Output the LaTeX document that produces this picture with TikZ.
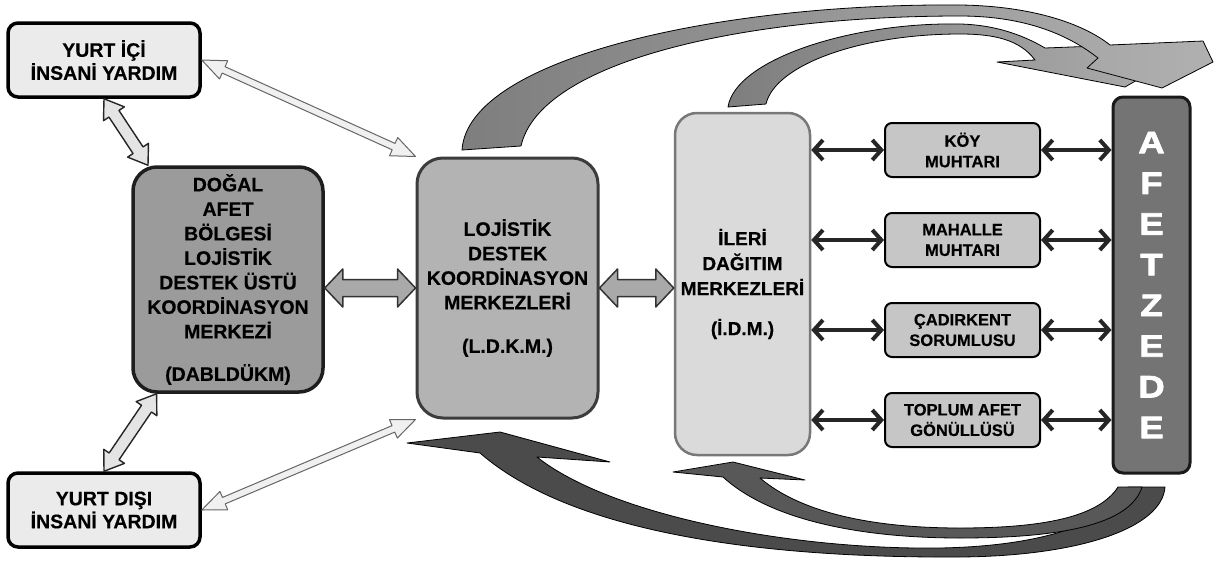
\documentclass[tikz,border=0pt]{standalone}
\usepackage{fontspec}
\setmainfont{Liberation Sans}[BoldFeatures={FakeBold=0.4}]
\newfontfamily\heavyfont{Liberation Sans Bold}[FakeBold=2.5, FakeStretch=1.18]
\usetikzlibrary{calc,arrows.meta}
\definecolor{yfill}{HTML}{EBEBEB}
\definecolor{dabfill}{HTML}{9B9B9B}
\definecolor{dabline}{HTML}{1E1E1E}
\definecolor{ldkmfill}{HTML}{B3B3B3}
\definecolor{ldkmline}{HTML}{3C3C3C}
\definecolor{idmfill}{HTML}{DADADA}
\definecolor{idmline}{HTML}{787878}
\definecolor{smallfill}{HTML}{C6C6C6}
\definecolor{afzfill}{HTML}{747474}
\definecolor{afzline}{HTML}{1A1A1A}
\definecolor{hblkfill}{HTML}{A9A9A9}
\definecolor{diagfill}{HTML}{E4E4E4}
\definecolor{thinfill}{HTML}{F0F0F0}
\definecolor{topdark}{HTML}{7E7E7E}
\definecolor{toplight}{HTML}{B0B0B0}
\definecolor{botfill}{HTML}{4B4B4B}
\definecolor{botfillb}{HTML}{585858}
\newcommand\dblarr[6]{%
  \coordinate (da1) at ($(#2)!#6!(#3)$);
  \coordinate (da2) at ($(#3)!#6!(#2)$);
  \filldraw[#1] (#2) -- ($(da1)!#5!90:(#2)$) -- ($(da1)!#4!90:(#2)$) -- ($(da2)!#4!-90:(#3)$) -- ($(da2)!#5!-90:(#3)$) -- (#3) -- ($(da2)!#5!90:(#3)$) -- ($(da2)!#4!90:(#3)$) -- ($(da1)!#4!-90:(#2)$) -- ($(da1)!#5!-90:(#2)$) -- cycle;}
\begin{document}
\begin{tikzpicture}[x=1pt,y=-1pt, line join=round,
  txt/.style={font=\fontsize{19.5}{24.5}\selectfont\bfseries, align=center, inner sep=0pt},
  yurt/.style={txt, draw=black, line width=3.5pt, fill=yfill, rounded corners=10pt, minimum width=192pt, minimum height=74pt, font=\fontsize{19.5}{23}\selectfont\bfseries},
  dabs/.style={txt, draw=dabline, line width=3.5pt, fill=dabfill, rounded corners=24pt, minimum width=190pt, minimum height=225pt},
  ldkms/.style={txt, draw=ldkmline, line width=3pt, fill=ldkmfill, rounded corners=26pt, minimum width=181pt, minimum height=260pt},
  idms/.style={txt, draw=idmline, line width=2.5pt, fill=idmfill, rounded corners=22pt, minimum width=135pt, minimum height=342pt, font=\fontsize{19}{25}\selectfont\bfseries},
  small/.style={txt, draw=black, line width=2pt, fill=smallfill, rounded corners=7pt, minimum width=155pt, minimum height=54pt, font=\fontsize{16.5}{20.5}\selectfont\bfseries},
  afzs/.style={draw=afzline, line width=3pt, fill=afzfill, rounded corners=10pt, minimum width=77pt, minimum height=376pt, inner sep=0pt},
  afztxt/.style={text=white, align=center, inner sep=0pt, font=\fontsize{31}{40.7}\selectfont\heavyfont},
  blk/.style={line width=4pt, draw=black!85, {Straight Barb[length=9pt,width=20pt]}-{Straight Barb[length=9pt,width=20pt]}},
  hblk/.style={fill=hblkfill, draw=black!80, line width=1.5pt},
  diag/.style={fill=diagfill, draw=black!85, line width=1.4pt},
  thin/.style={fill=thinfill, draw=black!60, line width=1pt},
  curvtop/.style={left color=topdark, right color=toplight, draw=black, line width=0.8pt},
  curvbot/.style={fill=botfill, draw=black, line width=0.8pt},
  curvbotb/.style={fill=botfillb, draw=black, line width=0.8pt}
]
\useasboundingbox (0,0) rectangle (1221,560);
\fill[white] (0,0) rectangle (1221,560);

% curved arrows at the top
\path[curvtop] (728,107) .. controls (735,60) and (850,22) .. (960,24) .. controls (1000,25) and (1028,38) .. (1045,48)
  -- (1203,42) -- (1125,87) -- (997,62) -- (1035,60) .. controls (1020,40) and (995,34) .. (960,34) .. controls (860,34) and (775,65) .. (766,104) -- cycle;
\path[curvtop] (462,150) .. controls (468,58) and (720,3) .. (960,5) .. controls (1035,6) and (1085,25) .. (1110,45)
  -- (1203,41) -- (1213,62) -- (1162,88) -- (1087,68) -- (1098,58) .. controls (1065,32) and (1020,16) .. (960,16) .. controls (740,16) and (540,62) .. (521,146) -- cycle;

% curved arrows at the bottom
\path[curvbot] (1165,487) .. controls (1162,528) and (1080,556) .. (960,557) .. controls (790,558) and (580,540) .. (480,453)
  -- (407,443) -- (500,432) -- (610,462) -- (537,457) .. controls (610,515) and (790,550) .. (940,548) .. controls (1050,546) and (1112,520) .. (1128,487) -- cycle;
\path[curvbotb] (760,478) .. controls (800,512) and (870,528) .. (960,528) .. controls (1050,528) and (1100,515) .. (1118,487)
  -- (1142,487) .. controls (1130,525) and (1060,538) .. (960,538) .. controls (860,538) and (770,520) .. (723,477)
  -- (673,472) -- (733,462) -- (805,480) -- cycle;

% boxes
\node[yurt] (yi) at (104,60) {YURT İÇİ\\İNSANİ YARDIM};
\node[yurt] (yd) at (104,510) {YURT DIŞI\\İNSANİ YARDIM};
\node[dabs] (dab) at (228,279.5) {DOĞAL\\AFET\\BÖLGESİ\\LOJİSTİK\\DESTEK ÜSTÜ\\KOORDİNASYON\\MERKEZİ\\[18pt](DABLDÜKM)};
\node[ldkms] (ldkm) at (507.5,288) {LOJİSTİK\\DESTEK\\KOORDİNASYON\\MERKEZLERİ\\[19pt](L.D.K.M.)};
\node[idms] (idm) at (742.5,284) {İLERİ\\DAĞITIM\\MERKEZLERİ\\[15pt](İ.D.M.)};
\node[small] (koy) at (962.5,150) {KÖY\\MUHTARI};
\node[small] (mah) at (962.5,240) {MAHALLE\\MUHTARI};
\node[small] (cad) at (962.5,330) {ÇADIRKENT\\SORUMLUSU};
\node[small] (top) at (962.5,420) {TOPLUM AFET\\GÖNÜLLÜSÜ};
\node[afzs] (afz) at (1151.5,285) {};
\node[afztxt] (afzt) at (afz.center) {A\\F\\E\\T\\Z\\E\\D\\E};

% block arrows
\dblarr{thin}{yi.east}{ldkm.north west}{3.5pt}{10pt}{24pt}
\dblarr{thin}{yd.east}{ldkm.south west}{3.5pt}{10pt}{24pt}
\dblarr{diag}{yi.south}{dab.125}{6pt}{12.5pt}{18pt}
\dblarr{diag}{yd.north}{dab.-122}{6pt}{12.5pt}{18pt}
\path (dab.east |- ldkm.center) coordinate (h1);
\path (idm.west |- ldkm.center) coordinate (h2);
\dblarr{hblk}{h1}{ldkm.west}{8.5pt}{19pt}{18pt}
\dblarr{hblk}{ldkm.east}{h2}{8.5pt}{19pt}{18pt}

% small black arrows
\foreach \n in {koy,mah,cad,top}{
  \draw[blk] (idm.east |- \n.west) -- (\n.west);
  \draw[blk] (\n.east) -- (afz.west |- \n.east);
}
\end{tikzpicture}
\end{document}
